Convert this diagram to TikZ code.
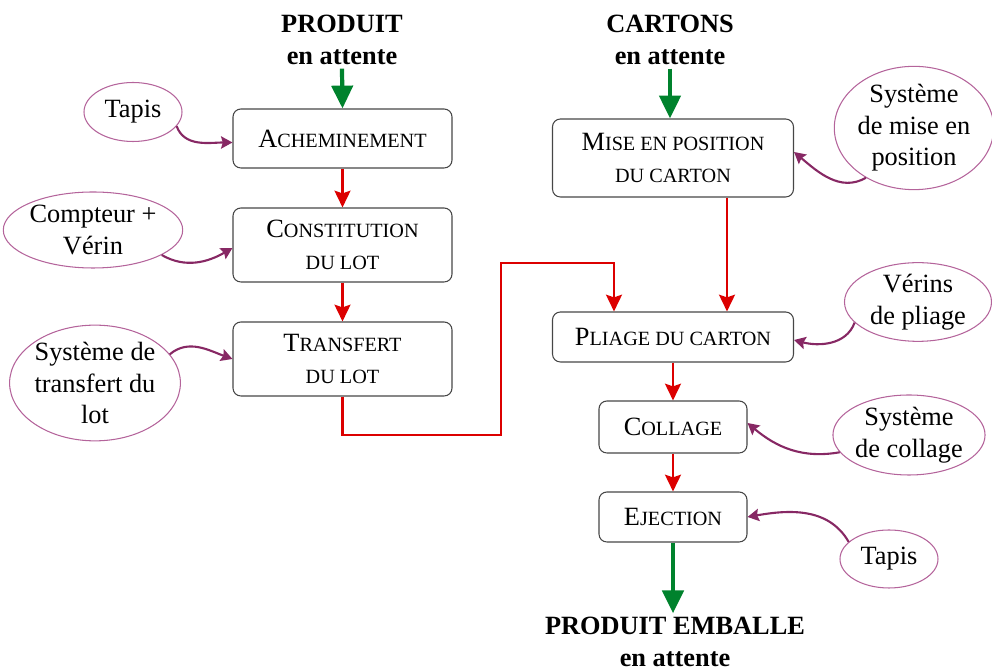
\documentclass[tikz,border=0pt]{standalone}
\usepackage{fontspec}
\setmainfont{Liberation Serif}
\usetikzlibrary{arrows.meta,shapes.geometric}
\newcommand\petitcap[1]{{\fontsize{11.5}{14}\selectfont #1}}
\begin{document}
\begin{tikzpicture}[x=0.02cm,y=-0.02cm,
  font=\fontsize{15}{18}\selectfont,
  etape/.style={draw=boxgray, line width=0.6pt, rounded corners=4.5pt, align=center},
  moyen/.style={ellipse, draw=mauve, line width=0.6pt, align=center, inner sep=0pt},
  titre/.style={font=\fontsize{15}{18.2}\selectfont\bfseries, align=center, inner sep=2pt},
  flux/.style={draw=rouge, line width=1.6pt, -{Stealth[length=9.5pt,width=9pt,inset=1.5pt]}},
  entree/.style={draw=vert, line width=2.4pt, -{Triangle[length=13pt,width=12pt]}},
  action/.style={draw=prune, line width=1.2pt, -{Stealth[length=6.5pt,width=7pt,inset=1pt]}}]
\pgfmathsetlengthmacro\px{0.02cm};
\definecolor{boxgray}{RGB}{70,70,70}
\definecolor{mauve}{RGB}{180,100,155}
\definecolor{prune}{RGB}{135,40,100}
\definecolor{rouge}{RGB}{220,0,0}
\definecolor{vert}{RGB}{0,130,45}
\useasboundingbox (0,0) rectangle (992,671);
% entrees et sortie
\node[titre] (prod) at (342,40) {PRODUIT\\en attente};
\node[titre] (cart) at (670,40) {CARTONS\\en attente};
\node[titre] (emb) at (675,642) {PRODUIT EMBALLE\\en attente};
% etapes, colonne produit
\node[etape, minimum width=219*\px, minimum height=59*\px] (ach) at (342.5,138.5) {A\petitcap{CHEMINEMENT}};
\node[etape, minimum width=219*\px, minimum height=74*\px] (cons) at (342.5,245) {C\petitcap{ONSTITUTION}\\\petitcap{DU LOT}};
\node[etape, minimum width=219*\px, minimum height=74*\px] (trans) at (342.5,359) {T\petitcap{RANSFERT}\\\petitcap{DU LOT}};
% etapes, colonne carton
\node[etape, minimum width=241*\px, minimum height=78*\px] (mise) at (673,158) {M\petitcap{ISE EN POSITION}\\\petitcap{DU CARTON}};
\node[etape, minimum width=241*\px, minimum height=50*\px] (pliage) at (673,337) {P\petitcap{LIAGE DU CARTON}};
\node[etape, minimum width=148*\px, minimum height=52*\px] (coll) at (673,427) {C\petitcap{OLLAGE}};
\node[etape, minimum width=148*\px, minimum height=50*\px] (ejec) at (673,517) {E\petitcap{JECTION}};
% moyens
\node[moyen, minimum width=98*\px, minimum height=59*\px] (tapisA) at (133,112) {Tapis};
\node[moyen, minimum width=168*\px, minimum height=76*\px] (compt) at (93,230) {Compteur +\\Vérin};
\node[moyen, minimum width=166*\px, minimum height=108*\px] (systr) at (95,383) {Système de\\transfert du\\lot};
\node[moyen, minimum width=158*\px, minimum height=113*\px] (sysmp) at (914,128) {Système\\de mise en\\position};
\node[moyen, minimum width=147*\px, minimum height=76*\px] (verins) at (918,302) {Vérins\\de pliage};
\node[moyen, minimum width=148*\px, minimum height=80*\px] (syscol) at (909,435) {Système\\de collage};
\node[moyen, minimum width=98*\px, minimum height=58*\px] (tapisB) at (889,559) {Tapis};
% flux
\draw[entree] (prod.south) -- (ach.north);
\draw[entree] (cart.south) -- (cart.south |- mise.north);
\draw[entree] (ejec.south) -- (ejec.south |- emb.north);
\draw[flux] (ach) -- (cons);
\draw[flux] (cons) -- (trans);
\draw[flux] (trans.south) |- (501,435) -- (501,263) -| ([xshift=-59*\px]pliage.north);
\draw[flux] ([xshift=54*\px]mise.south) -- ([xshift=54*\px]pliage.north);
\draw[flux] (pliage) -- (coll);
\draw[flux] (coll) -- (ejec);
% actions des moyens
\draw[action] (tapisA.-18) to[out=-70,in=180] ([yshift=-4*\px]ach.west);
\draw[action] (compt.-20) to[out=-30,in=210] ([yshift=-3*\px]cons.west);
\draw[action] (systr.21) to[out=40,in=160] (trans.west);
\draw[action] (sysmp.-134) to[out=-150,in=-40] ([yshift=6*\px]mise.east);
\draw[action] (verins.-162) to[out=-110,in=-15] ([yshift=-3*\px]pliage.east);
\draw[action] (syscol.-166) to[out=190,in=-40] ([yshift=4*\px]coll.east);
\draw[action] (tapisB.157) to[out=120,in=10] (ejec.east);
\end{tikzpicture}
\end{document}
